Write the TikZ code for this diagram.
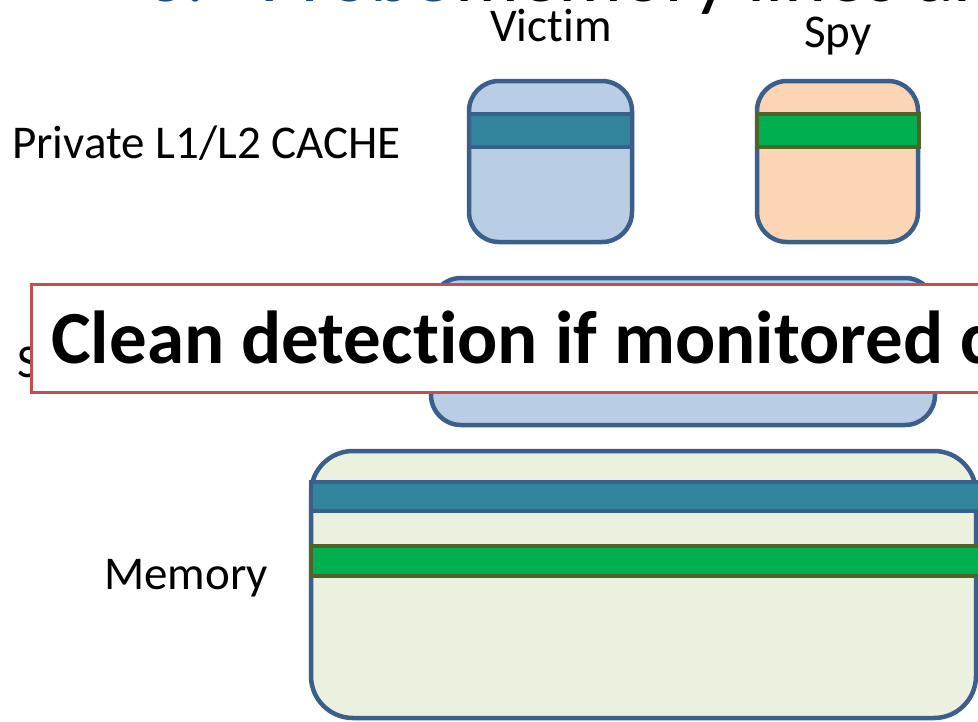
\documentclass[tikz,border=0pt]{standalone}
\usepackage{fontspec}
\setmainfont{Carlito}[Ligatures=NoCommon]
\definecolor{boxblue}{HTML}{3A5F8B}
\definecolor{lightblue}{HTML}{B9CDE5}
\definecolor{peachfill}{HTML}{FCD5B5}
\definecolor{tealband}{HTML}{31849B}
\definecolor{greenband}{HTML}{00B050}
\definecolor{oliveline}{HTML}{4F6228}
\definecolor{memfill}{HTML}{EBF1DE}
\definecolor{calloutred}{HTML}{C0504D}
\definecolor{titleblue}{HTML}{1F497D}
\tikzset{
  cachebox/.style={draw=boxblue, line width=4.5pt, rounded corners=30pt},
  tealline/.style={draw=boxblue, fill=tealband, line width=4pt},
  greenline/.style={draw=oliveline, fill=greenband, line width=4.5pt},
  lbl/.style={inner sep=0pt, font=\fontsize{47}{56}\selectfont},
  ttl/.style={inner sep=0pt, anchor=base west, font=\fontsize{80}{96}\selectfont},
  callout/.style={draw=calloutred, fill=white, line width=3pt},
}
\begin{document}
\begin{tikzpicture}[x=1pt,y=-1pt]
\useasboundingbox (0,0) rectangle (978,721);
\clip (0,0) rectangle (978,721);
\fill[white] (0,0) rectangle (978,721);
% title (cut off at top)
\node[ttl, text=titleblue] (tnum) at (145,1) {3.};
\node[ttl, text=titleblue] (tprobe) at (260,1) {Probe};
\node[ttl] (trest) at (455,1) {memory lines an};
% labels
\node[lbl, anchor=base] (victim) at (551,41) {Victim};
\node[lbl, anchor=base] (spy) at (838,47) {Spy};
\node[lbl, anchor=base west] (l1) at (12,158) {Private L1/L2 CACHE};
\node[lbl, anchor=base west] (l3) at (17,377) {Shared L3 CACHE};
\node[lbl, anchor=base] (mem) at (186,589) {Memory};
% victim private cache
\path[cachebox, fill=lightblue] (469,81) rectangle (632,242);
\path[tealline] (469,114) rectangle (632,147);
% spy private cache
\path[cachebox, fill=peachfill] (757,81) rectangle (918,242);
\path[greenline] (757,114) rectangle (919,147);
% shared L3
\path[cachebox, fill=lightblue] (431,278) rectangle (935,425);
% memory
\path[cachebox, fill=memfill, rounded corners=42pt] (311,451) rectangle (976,718);
\path[tealline] (311,482) rectangle (1000,511);
\path[greenline] (311,546) rectangle (1000,576);
% callout
\fill[black!12] (33,286) rectangle (1003,394);
\path[callout] (31,284) rectangle (1000,392);
\node[inner sep=0pt, anchor=base west, font=\fontsize{75}{90}\selectfont\bfseries] (msg) at (51,363)
  {Clean detection if monitored cache line};
\end{tikzpicture}
\end{document}
